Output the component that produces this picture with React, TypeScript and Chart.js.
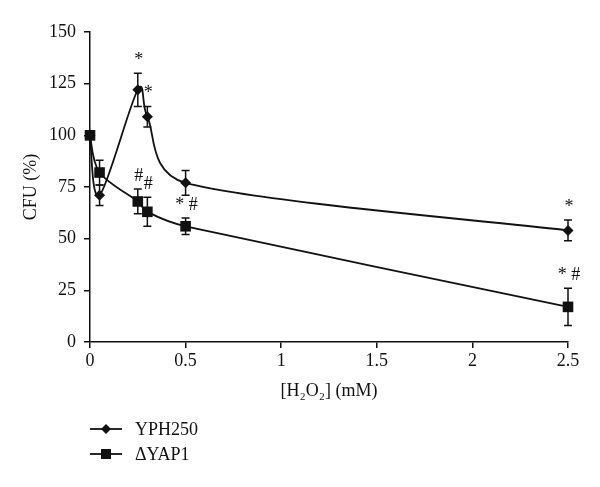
import React, { useEffect, useRef } from "react";
import { Chart, registerables } from "chart.js";
Chart.register(...registerables);

const doses = [0, 0.05, 0.25, 0.3, 0.5, 2.5];
const yph250 = [100, 71, 122, 109, 77, 54];
const yph250Err = [0, 5, 8, 5, 6, 5];
const dyap1 = [100, 82, 68, 63, 56, 17];
const dyap1Err = [0, 6, 6, 7, 4, 9];
const yph250Marks = ["", "", "*", "*", "", "*"];
const dyap1Marks = ["", "", "#", "#", "* #", "* #"];
const seriesNames = ["YPH250", "ΔYAP1"];
const xTitle = "[H₂O₂] (mM)";
const yTitle = "CFU (%)";

const FONT = "'Liberation Serif', 'Times New Roman', serif";
const INK = "#111";

type P = { x: number; y: number };
const dist = (a: P, b: P) => Math.hypot(a.x - b.x, a.y - b.y);

export default function App() {
  const ref = useRef<HTMLCanvasElement | null>(null);
  useEffect(() => {
    if (!ref.current) return;
    const errs = [yph250Err, dyap1Err];
    const marks = [yph250Marks, dyap1Marks];

    const extras = {
      id: "extras",
      beforeDatasetsDraw(chart: any) {
        const ctx = chart.ctx;
        const xs = chart.scales.x;
        const ys = chart.scales.y;
        ctx.save();
        // smoothed curves (spreadsheet-like smoothing)
        chart.data.datasets.forEach((ds: any) => {
          const pts: P[] = ds.data.map((p: any) => ({ x: xs.getPixelForValue(p.x), y: ys.getPixelForValue(p.y) }));
          const n = pts.length;
          const ctrl = pts.map((p, i) => {
            const prev = pts[Math.max(0, i - 1)];
            const next = pts[Math.min(n - 1, i + 1)];
            const tx = next.x - prev.x;
            const ty = next.y - prev.y;
            const tl = Math.hypot(tx, ty) || 1;
            const base = tl / 6;
            const lb = i > 0 ? Math.min(base, dist(p, prev) / 2) : 0;
            const lf = i < n - 1 ? Math.min(base, dist(p, next) / 2) : 0;
            return {
              bx: p.x - (tx / tl) * lb,
              by: p.y - (ty / tl) * lb,
              fx: p.x + (tx / tl) * lf,
              fy: p.y + (ty / tl) * lf,
            };
          });
          ctx.strokeStyle = INK;
          ctx.lineWidth = 1.8;
          ctx.lineJoin = "round";
          ctx.beginPath();
          ctx.moveTo(pts[0].x, pts[0].y);
          for (let i = 0; i < n - 1; i++) {
            ctx.bezierCurveTo(ctrl[i].fx, ctrl[i].fy, ctrl[i + 1].bx, ctrl[i + 1].by, pts[i + 1].x, pts[i + 1].y);
          }
          ctx.stroke();
        });
        // error bars
        ctx.strokeStyle = INK;
        ctx.lineWidth = 1.5;
        chart.data.datasets.forEach((ds: any, di: number) => {
          ds.data.forEach((p: any, i: number) => {
            const e = errs[di][i];
            if (!e) return;
            const px = xs.getPixelForValue(p.x);
            const top = ys.getPixelForValue(p.y + e);
            const bot = ys.getPixelForValue(p.y - e);
            ctx.beginPath();
            ctx.moveTo(px, top);
            ctx.lineTo(px, bot);
            ctx.moveTo(px - 4, top);
            ctx.lineTo(px + 4, top);
            ctx.moveTo(px - 4, bot);
            ctx.lineTo(px + 4, bot);
            ctx.stroke();
          });
        });
        ctx.restore();
      },
      afterDraw(chart: any) {
        const ctx = chart.ctx;
        const xs = chart.scales.x;
        const ys = chart.scales.y;
        ctx.save();
        ctx.fillStyle = INK;
        ctx.font = `18px ${FONT}`;
        ctx.textAlign = "center";
        ctx.textBaseline = "middle";
        chart.data.datasets.forEach((ds: any, di: number) => {
          ds.data.forEach((p: any, i: number) => {
            const m = marks[di][i];
            if (!m) return;
            const px = xs.getPixelForValue(p.x);
            const top = ys.getPixelForValue(p.y + errs[di][i]);
            ctx.fillText(m, px + 1, top - 13);
          });
        });
        // legend
        chart.data.datasets.forEach((ds: any, di: number) => {
          const y = 429 + di * 25;
          ctx.strokeStyle = INK;
          ctx.lineWidth = 1.8;
          ctx.beginPath();
          ctx.moveTo(90, y);
          ctx.lineTo(122, y);
          ctx.stroke();
          ctx.beginPath();
          if (ds.pointStyle === "rectRot") {
            const r = 5;
            ctx.moveTo(106 - r, y);
            ctx.lineTo(106, y - r);
            ctx.lineTo(106 + r, y);
            ctx.lineTo(106, y + r);
            ctx.closePath();
          } else {
            ctx.rect(106 - 5, y - 5, 10, 10);
          }
          ctx.fill();
          ctx.textAlign = "left";
          ctx.fillText(ds.label, 135, y + 1);
        });
        ctx.restore();
      },
    };

    const chart = new Chart(ref.current, {
      type: "line",
      data: {
        datasets: [
          {
            label: seriesNames[0],
            data: doses.map((x, i) => ({ x, y: yph250[i] })),
            borderColor: INK,
            backgroundColor: INK,
            showLine: false,
            clip: false,
            pointStyle: "rectRot",
            pointRadius: 5.5,
            pointBorderWidth: 0,
          },
          {
            label: seriesNames[1],
            data: doses.map((x, i) => ({ x, y: dyap1[i] })),
            borderColor: INK,
            backgroundColor: INK,
            showLine: false,
            clip: false,
            pointStyle: "rect",
            pointRadius: 7.5,
            pointBorderWidth: 0,
          },
        ],
      },
      plugins: [extras],
      options: {
        animation: false,
        responsive: true,
        maintainAspectRatio: false,
        layout: { padding: { left: 0, top: 32, right: 32, bottom: 65 } },
        plugins: { legend: { display: false }, tooltip: { enabled: false } },
        scales: {
          x: {
            type: "linear",
            min: 0,
            max: 2.5,
            afterFit(s: any) {
              s.height = 80;
            },
            ticks: {
              stepSize: 0.5,
              color: INK,
              font: { family: FONT, size: 18 },
              padding: 2,
              maxRotation: 0,
              callback: (v: any) => String(v),
            },
            grid: { drawOnChartArea: false, tickLength: 6, color: INK, lineWidth: 1.5 },
            border: { color: INK, width: 1.5 },
            title: { display: true, text: xTitle, color: INK, font: { family: FONT, size: 18 }, padding: { top: 0, bottom: 20 } },
          },
          y: {
            min: 0,
            max: 150,
            afterFit(s: any) {
              s.width = 90;
            },
            ticks: { stepSize: 25, color: INK, font: { family: FONT, size: 18 }, padding: 8 },
            grid: { drawOnChartArea: false, tickLength: 6, color: INK, lineWidth: 1.5 },
            border: { color: INK, width: 1.5 },
            title: { display: true, text: yTitle, color: INK, font: { family: FONT, size: 18 }, padding: { top: 20, bottom: 0 } },
          },
        },
      },
    } as any);
    return () => chart.destroy();
  }, []);

  return (
    <div style={{ position: "absolute", left: 0, top: 0, width: 600, height: 487, background: "#fff" }}>
      <canvas ref={ref} />
    </div>
  );
}
